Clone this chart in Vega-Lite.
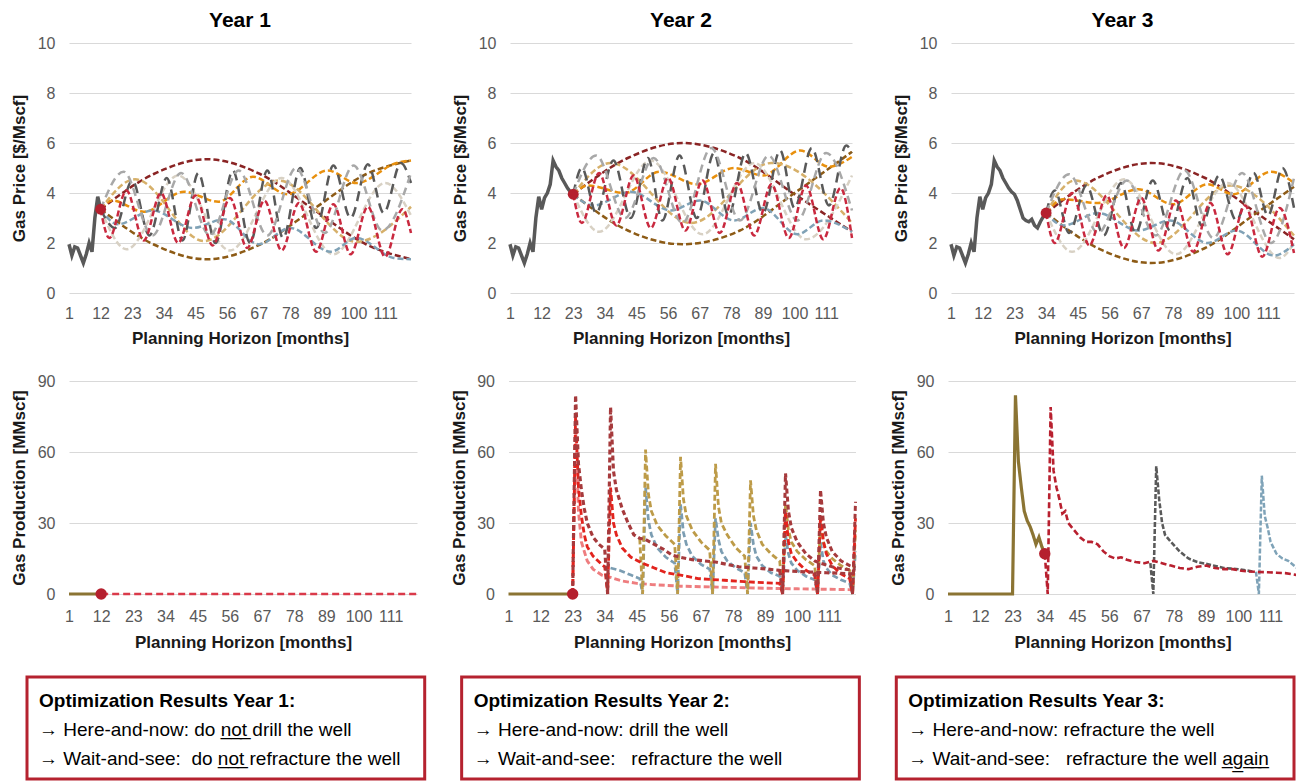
{
"$schema": "https://vega.github.io/schema/vega-lite/v6.json",
"padding": {"left": 10, "top": 10, "right": 0, "bottom": 0},
"background": "white",
"config": {
  "view": {"stroke": null},
  "font": "Liberation Sans",
  "axis": {"labelFont": "Liberation Sans", "titleFont": "Liberation Sans", "labelFontSize": 16, "labelColor": "#595959", "titleFontSize": 17, "titleFontWeight": "bold", "titleColor": "#1a1a1a", "domain": false, "ticks": false, "tickSize": 0, "gridColor": "#d9d9d9", "gridWidth": 1},
  "axisX": {"grid": false, "labelPadding": 12, "titlePadding": 9, "labelOverlap": false, "labelFlush": false, "tickCount": 20},
  "axisY": {"grid": true, "labelPadding": 14, "titlePadding": 8.5},
  "title": {"font": "Liberation Sans", "fontSize": 21, "fontWeight": "bold", "color": "#000000", "offset": 4, "anchor": "middle"},
  "line": {"strokeCap": "butt"}
},
"datasets": {
  "h": [
    {"m":1,"v":1.95},{"m":2,"v":1.5},{"m":3,"v":1.85},{"m":4,"v":1.8},{"m":5,"v":1.5},{"m":6,"v":1.2},{"m":7,"v":1.55},{"m":8,"v":2.0},{"m":9,"v":1.65},{"m":10,"v":3.0},{"m":11,"v":3.85},{"m":12,"v":3.35},{"m":13,"v":3.8},{"m":14,"v":4.0},{"m":15,"v":4.35},{"m":16,"v":5.3},{"m":17,"v":5.05},{"m":18,"v":4.9},{"m":19,"v":4.6},{"m":20,"v":4.4},{"m":21,"v":4.2},{"m":22,"v":4.05},{"m":23,"v":3.95},{"m":24,"v":3.7},{"m":25,"v":3.35},{"m":26,"v":3.0},{"m":27,"v":2.9},{"m":28,"v":2.85},{"m":29,"v":2.95},{"m":30,"v":2.7},{"m":31,"v":2.6},{"m":32,"v":2.85},{"m":33,"v":3.05},{"m":34,"v":3.2}
  ],
  "d": [
    {"yr":1,"m":12,"pv":3.35,"qv":0},{"yr":2,"m":23,"pv":3.95,"qv":0},{"yr":3,"m":34,"pv":3.2,"qv":17}
  ],
  "p1": [
    {"s":"dr","m":12,"v":3.35},{"s":"dr","m":30.5,"v":4.76},{"s":"dr","m":49,"v":5.35},{"s":"dr","m":67.5,"v":4.76},{"s":"dr","m":86,"v":3.35},{"s":"dr","m":104.5,"v":1.94},{"s":"dr","m":120,"v":1.35},
    {"s":"br","m":12,"v":3.35},{"s":"br","m":30.5,"v":1.94},{"s":"br","m":49,"v":1.35},{"s":"br","m":67.5,"v":1.94},{"s":"br","m":86,"v":3.35},{"s":"br","m":104.5,"v":4.76},{"s":"br","m":120,"v":5.3},
    {"s":"or","m":12,"v":3.35},{"s":"or","m":16,"v":3.7},{"s":"or","m":27,"v":3.25},{"s":"or","m":41,"v":4.05},{"s":"or","m":53,"v":3.65},{"s":"or","m":65,"v":4.65},{"s":"or","m":77,"v":3.95},{"s":"or","m":91,"v":4.9},{"s":"or","m":101,"v":4.4},{"s":"or","m":115,"v":5.2},{"s":"or","m":120,"v":5.3},
    {"s":"tn","m":12,"v":3.35},{"s":"tn","m":24,"v":4.55},{"s":"tn","m":48,"v":2.08},{"s":"tn","m":74,"v":4.5},{"s":"tn","m":101,"v":2.05},{"s":"tn","m":120,"v":3.45},
    {"s":"bg","m":12,"v":3.35},{"s":"bg","m":21,"v":1.75},{"s":"bg","m":39,"v":4.7},{"s":"bg","m":57,"v":1.7},{"s":"bg","m":75,"v":4.6},{"s":"bg","m":93,"v":1.55},{"s":"bg","m":111,"v":4.4},{"s":"bg","m":120,"v":3.1},
    {"s":"bl","m":12,"v":3.35},{"s":"bl","m":18,"v":2.75},{"s":"bl","m":30,"v":3.3},{"s":"bl","m":44,"v":2.6},{"s":"bl","m":55,"v":2.95},{"s":"bl","m":67,"v":1.95},{"s":"bl","m":78,"v":2.6},{"s":"bl","m":92,"v":1.65},{"s":"bl","m":101,"v":2.2},{"s":"bl","m":114,"v":1.4},{"s":"bl","m":120,"v":1.35},
    {"s":"dg","m":12,"v":3.35},{"s":"dg","m":17,"v":2.6},{"s":"dg","m":23,"v":4.5},{"s":"dg","m":29,"v":2.3},{"s":"dg","m":35,"v":4.6},{"s":"dg","m":40.5,"v":2.1},{"s":"dg","m":46,"v":4.8},{"s":"dg","m":52,"v":2.0},{"s":"dg","m":58,"v":4.9},{"s":"dg","m":64,"v":2.0},{"s":"dg","m":70,"v":4.9},{"s":"dg","m":75.5,"v":2.2},{"s":"dg","m":81.5,"v":5.0},{"s":"dg","m":87,"v":2.6},{"s":"dg","m":93,"v":5.1},{"s":"dg","m":99,"v":3.0},{"s":"dg","m":105,"v":5.15},{"s":"dg","m":110.5,"v":3.2},{"s":"dg","m":116.5,"v":5.2},{"s":"dg","m":120,"v":4.4},
    {"s":"mg","m":12,"v":3.35},{"s":"mg","m":20,"v":4.85},{"s":"mg","m":30,"v":2.3},{"s":"mg","m":40,"v":4.8},{"s":"mg","m":50,"v":2.3},{"s":"mg","m":60,"v":4.9},{"s":"mg","m":70,"v":2.3},{"s":"mg","m":80,"v":5.0},{"s":"mg","m":90,"v":2.4},{"s":"mg","m":100,"v":5.1},{"s":"mg","m":110,"v":2.5},{"s":"mg","m":120,"v":4.8},
    {"s":"r1","m":12,"v":3.35},{"s":"r1","m":15,"v":2.2},{"s":"r1","m":21,"v":4.1},{"s":"r1","m":27,"v":2.1},{"s":"r1","m":33,"v":4.0},{"s":"r1","m":39,"v":2.0},{"s":"r1","m":45,"v":3.9},{"s":"r1","m":51,"v":1.9},{"s":"r1","m":57,"v":3.8},{"s":"r1","m":63,"v":1.8},{"s":"r1","m":69,"v":3.7},{"s":"r1","m":75,"v":1.7},{"s":"r1","m":81,"v":3.6},{"s":"r1","m":87,"v":1.65},{"s":"r1","m":93,"v":3.55},{"s":"r1","m":99,"v":1.55},{"s":"r1","m":105,"v":3.45},{"s":"r1","m":111,"v":1.45},{"s":"r1","m":117,"v":3.35},{"s":"r1","m":120,"v":2.4}
  ],
  "p2": [
    {"s":"dr","m":23,"v":3.95},{"s":"dr","m":42,"v":5.4},{"s":"dr","m":61,"v":6.0},{"s":"dr","m":81,"v":5.4},{"s":"dr","m":100,"v":3.95},{"s":"dr","m":120,"v":2.45},
    {"s":"br","m":23,"v":3.95},{"s":"br","m":42,"v":2.5},{"s":"br","m":61,"v":1.95},{"s":"br","m":81,"v":2.5},{"s":"br","m":100,"v":4.0},{"s":"br","m":120,"v":5.65},
    {"s":"or","m":23,"v":3.95},{"s":"or","m":28,"v":4.3},{"s":"or","m":41,"v":4.0},{"s":"or","m":53,"v":4.85},{"s":"or","m":66,"v":4.35},{"s":"or","m":79,"v":5.0},{"s":"or","m":89,"v":4.7},{"s":"or","m":102,"v":5.7},{"s":"or","m":112,"v":5.05},{"s":"or","m":120,"v":5.45},
    {"s":"tn","m":23,"v":3.95},{"s":"tn","m":36,"v":5.2},{"s":"tn","m":64,"v":2.8},{"s":"tn","m":92,"v":5.2},{"s":"tn","m":120,"v":2.8},
    {"s":"bg","m":23,"v":3.95},{"s":"bg","m":32,"v":2.45},{"s":"bg","m":50,"v":5.3},{"s":"bg","m":68,"v":2.35},{"s":"bg","m":86,"v":5.2},{"s":"bg","m":104,"v":2.15},{"s":"bg","m":120,"v":4.7},
    {"s":"bl","m":23,"v":3.95},{"s":"bl","m":30,"v":3.5},{"s":"bl","m":43,"v":4.05},{"s":"bl","m":57,"v":3.3},{"s":"bl","m":67,"v":3.7},{"s":"bl","m":79,"v":2.9},{"s":"bl","m":89,"v":3.4},{"s":"bl","m":101,"v":2.35},{"s":"bl","m":110,"v":2.9},{"s":"bl","m":120,"v":2.45},
    {"s":"dg","m":23,"v":3.95},{"s":"dg","m":26,"v":5.0},{"s":"dg","m":31,"v":3.2},{"s":"dg","m":37,"v":5.3},{"s":"dg","m":43,"v":3.0},{"s":"dg","m":49,"v":5.4},{"s":"dg","m":54,"v":2.9},{"s":"dg","m":60,"v":5.5},{"s":"dg","m":66,"v":3.0},{"s":"dg","m":72,"v":5.6},{"s":"dg","m":77,"v":3.1},{"s":"dg","m":83,"v":5.6},{"s":"dg","m":89,"v":3.2},{"s":"dg","m":95,"v":5.7},{"s":"dg","m":100,"v":3.4},{"s":"dg","m":106,"v":5.8},{"s":"dg","m":112,"v":3.5},{"s":"dg","m":118,"v":5.9},{"s":"dg","m":120,"v":5.6},
    {"s":"mg","m":23,"v":3.95},{"s":"mg","m":31,"v":5.5},{"s":"mg","m":41,"v":3.0},{"s":"mg","m":51,"v":5.4},{"s":"mg","m":61,"v":2.8},{"s":"mg","m":71,"v":5.8},{"s":"mg","m":81,"v":2.9},{"s":"mg","m":91,"v":5.5},{"s":"mg","m":101,"v":2.9},{"s":"mg","m":111,"v":5.6},{"s":"mg","m":120,"v":3.3},
    {"s":"r1","m":23,"v":3.95},{"s":"r1","m":26,"v":2.8},{"s":"r1","m":32,"v":4.8},{"s":"r1","m":38,"v":2.7},{"s":"r1","m":44,"v":4.7},{"s":"r1","m":50,"v":2.6},{"s":"r1","m":56,"v":4.6},{"s":"r1","m":62,"v":2.5},{"s":"r1","m":68,"v":4.5},{"s":"r1","m":74,"v":2.4},{"s":"r1","m":80,"v":4.4},{"s":"r1","m":86,"v":2.3},{"s":"r1","m":92,"v":4.35},{"s":"r1","m":98,"v":2.2},{"s":"r1","m":104,"v":4.3},{"s":"r1","m":110,"v":2.15},{"s":"r1","m":116,"v":4.2},{"s":"r1","m":120,"v":2.2}
  ],
  "p3": [
    {"s":"dr","m":34,"v":3.2},{"s":"dr","m":52,"v":4.61},{"s":"dr","m":70.5,"v":5.2},{"s":"dr","m":89,"v":4.61},{"s":"dr","m":107,"v":3.2},{"s":"dr","m":120,"v":2.15},
    {"s":"br","m":34,"v":3.2},{"s":"br","m":52,"v":1.79},{"s":"br","m":70.5,"v":1.2},{"s":"br","m":89,"v":1.79},{"s":"br","m":107,"v":3.2},{"s":"br","m":120,"v":4.25},
    {"s":"or","m":34,"v":3.2},{"s":"or","m":40,"v":3.75},{"s":"or","m":52,"v":3.6},{"s":"or","m":66,"v":4.15},{"s":"or","m":78,"v":3.55},{"s":"or","m":90,"v":4.35},{"s":"or","m":99,"v":3.95},{"s":"or","m":112,"v":4.85},{"s":"or","m":120,"v":4.4},
    {"s":"tn","m":34,"v":3.2},{"s":"tn","m":44,"v":4.5},{"s":"tn","m":72,"v":2.0},{"s":"tn","m":98,"v":4.3},{"s":"tn","m":120,"v":2.3},
    {"s":"bg","m":34,"v":3.2},{"s":"bg","m":43,"v":1.65},{"s":"bg","m":61,"v":4.55},{"s":"bg","m":79,"v":1.55},{"s":"bg","m":97,"v":4.4},{"s":"bg","m":115,"v":1.4},{"s":"bg","m":120,"v":2.0},
    {"s":"bl","m":34,"v":3.2},{"s":"bl","m":40,"v":2.7},{"s":"bl","m":52,"v":3.2},{"s":"bl","m":66,"v":2.5},{"s":"bl","m":77,"v":2.9},{"s":"bl","m":90,"v":2.0},{"s":"bl","m":100,"v":2.5},{"s":"bl","m":113,"v":1.5},{"s":"bl","m":120,"v":1.95},
    {"s":"dg","m":34,"v":3.2},{"s":"dg","m":37,"v":4.1},{"s":"dg","m":42,"v":2.4},{"s":"dg","m":48,"v":4.3},{"s":"dg","m":54,"v":2.3},{"s":"dg","m":60,"v":4.4},{"s":"dg","m":65,"v":2.4},{"s":"dg","m":71,"v":4.5},{"s":"dg","m":77,"v":2.5},{"s":"dg","m":83,"v":4.6},{"s":"dg","m":88,"v":2.7},{"s":"dg","m":94,"v":4.7},{"s":"dg","m":100,"v":2.9},{"s":"dg","m":106,"v":4.8},{"s":"dg","m":111,"v":3.1},{"s":"dg","m":116,"v":5.0},{"s":"dg","m":120,"v":3.4},
    {"s":"mg","m":34,"v":3.2},{"s":"mg","m":42,"v":4.75},{"s":"mg","m":52,"v":2.4},{"s":"mg","m":62,"v":4.5},{"s":"mg","m":72,"v":2.3},{"s":"mg","m":82,"v":4.9},{"s":"mg","m":92,"v":2.2},{"s":"mg","m":102,"v":4.8},{"s":"mg","m":112,"v":2.0},{"s":"mg","m":120,"v":4.6},
    {"s":"r1","m":34,"v":3.2},{"s":"r1","m":37,"v":2.0},{"s":"r1","m":43,"v":4.0},{"s":"r1","m":49,"v":1.9},{"s":"r1","m":55,"v":3.9},{"s":"r1","m":61,"v":1.8},{"s":"r1","m":67,"v":3.8},{"s":"r1","m":73,"v":1.7},{"s":"r1","m":79,"v":3.7},{"s":"r1","m":85,"v":1.65},{"s":"r1","m":91,"v":3.6},{"s":"r1","m":97,"v":1.55},{"s":"r1","m":103,"v":3.5},{"s":"r1","m":109,"v":1.45},{"s":"r1","m":115,"v":3.4},{"s":"r1","m":120,"v":1.6}
  ],
  "q1": [
    {"s":"ol","m":1,"v":0},{"s":"ol","m":12,"v":0},{"s":"rb","m":12,"v":0},{"s":"rb","m":120,"v":0}
  ],
  "q2": [
    {"s":"ol","m":1,"v":0},{"s":"ol","m":23,"v":0},
    {"s":"pk","m":23,"v":0},{"s":"pk","m":24,"v":70},{"s":"pk","m":25,"v":35},{"s":"pk","m":26,"v":22},{"s":"pk","m":28,"v":14},{"s":"pk","m":30,"v":10.5},{"s":"pk","m":33,"v":8},{"s":"pk","m":36,"v":7},{"s":"pk","m":40,"v":5.5},{"s":"pk","m":45,"v":4.5},{"s":"pk","m":50,"v":4},{"s":"pk","m":60,"v":3.3},{"s":"pk","m":70,"v":3},{"s":"pk","m":80,"v":2.7},{"s":"pk","m":90,"v":2.4},{"s":"pk","m":100,"v":2.2},{"s":"pk","m":110,"v":2},{"s":"pk","m":120,"v":1.8},
    {"s":"bl","m":36,"v":11},{"s":"bl","m":39,"v":10},{"s":"bl","m":43,"v":8},{"s":"bl","m":46,"v":6.5},{"s":"bl","m":47,"v":0},{"s":"bl","m":48,"v":45},{"s":"bl","m":49,"v":31},{"s":"bl","m":50,"v":25},{"s":"bl","m":52,"v":19.5},{"s":"bl","m":55,"v":15.5},{"s":"bl","m":58,"v":13},{"s":"bl","m":59,"v":0},{"s":"bl","m":60,"v":38},{"s":"bl","m":61,"v":26},{"s":"bl","m":62,"v":21},{"s":"bl","m":64,"v":16},{"s":"bl","m":67,"v":12.5},{"s":"bl","m":70,"v":10.5},{"s":"bl","m":71,"v":0},{"s":"bl","m":72,"v":32},{"s":"bl","m":73,"v":23},{"s":"bl","m":74,"v":18},{"s":"bl","m":76,"v":14},{"s":"bl","m":79,"v":11},{"s":"bl","m":82,"v":9},{"s":"bl","m":83,"v":0},{"s":"bl","m":84,"v":30},{"s":"bl","m":85,"v":21},{"s":"bl","m":86,"v":16},{"s":"bl","m":88,"v":12},{"s":"bl","m":91,"v":9},{"s":"bl","m":94,"v":7.5},{"s":"bl","m":95,"v":0},{"s":"bl","m":96,"v":25},{"s":"bl","m":97,"v":17},{"s":"bl","m":98,"v":13},{"s":"bl","m":100,"v":10},{"s":"bl","m":103,"v":7.5},{"s":"bl","m":106,"v":6},{"s":"bl","m":107,"v":0},{"s":"bl","m":108,"v":22},{"s":"bl","m":109,"v":14},{"s":"bl","m":110,"v":11},{"s":"bl","m":112,"v":8},{"s":"bl","m":115,"v":6},{"s":"bl","m":118,"v":4.5},{"s":"bl","m":119,"v":0},{"s":"bl","m":120,"v":18},
    {"s":"gd","m":46,"v":23.5},{"s":"gd","m":47,"v":0},{"s":"gd","m":48,"v":61},{"s":"gd","m":49,"v":42},{"s":"gd","m":50,"v":35},{"s":"gd","m":52,"v":29},{"s":"gd","m":55,"v":24.5},{"s":"gd","m":58,"v":21},{"s":"gd","m":59,"v":0},{"s":"gd","m":60,"v":58},{"s":"gd","m":61,"v":40},{"s":"gd","m":62,"v":33},{"s":"gd","m":64,"v":27},{"s":"gd","m":67,"v":22},{"s":"gd","m":70,"v":18.5},{"s":"gd","m":71,"v":0},{"s":"gd","m":72,"v":55},{"s":"gd","m":73,"v":37},{"s":"gd","m":74,"v":30},{"s":"gd","m":76,"v":25},{"s":"gd","m":79,"v":19.5},{"s":"gd","m":82,"v":16},{"s":"gd","m":83,"v":0},{"s":"gd","m":84,"v":48},{"s":"gd","m":85,"v":33},{"s":"gd","m":86,"v":27},{"s":"gd","m":88,"v":21},{"s":"gd","m":91,"v":17},{"s":"gd","m":94,"v":14},{"s":"gd","m":95,"v":0},{"s":"gd","m":96,"v":38},{"s":"gd","m":97,"v":27},{"s":"gd","m":98,"v":22},{"s":"gd","m":100,"v":18},{"s":"gd","m":103,"v":14.5},{"s":"gd","m":106,"v":12},{"s":"gd","m":107,"v":0},{"s":"gd","m":108,"v":32},{"s":"gd","m":109,"v":22},{"s":"gd","m":110,"v":18},{"s":"gd","m":112,"v":15},{"s":"gd","m":115,"v":12},{"s":"gd","m":118,"v":10},{"s":"gd","m":119,"v":0},{"s":"gd","m":120,"v":27},
    {"s":"rd","m":23,"v":0},{"s":"rd","m":24,"v":75},{"s":"rd","m":25,"v":45},{"s":"rd","m":26,"v":33},{"s":"rd","m":27,"v":25},{"s":"rd","m":28,"v":20},{"s":"rd","m":30,"v":16},{"s":"rd","m":33,"v":12.5},{"s":"rd","m":34,"v":11.5},{"s":"rd","m":35,"v":0},{"s":"rd","m":36,"v":45},{"s":"rd","m":37,"v":30},{"s":"rd","m":38,"v":25},{"s":"rd","m":40,"v":19.5},{"s":"rd","m":43,"v":15.5},{"s":"rd","m":47,"v":13},{"s":"rd","m":51,"v":11},{"s":"rd","m":55,"v":9},{"s":"rd","m":60,"v":8},{"s":"rd","m":66,"v":6.5},{"s":"rd","m":75,"v":5.8},{"s":"rd","m":82,"v":5.2},{"s":"rd","m":90,"v":4.7},{"s":"rd","m":94,"v":4.5},{"s":"rd","m":95,"v":0},{"s":"rd","m":96,"v":35},{"s":"rd","m":97,"v":22},{"s":"rd","m":98,"v":17},{"s":"rd","m":100,"v":13.5},{"s":"rd","m":103,"v":10},{"s":"rd","m":106,"v":8},{"s":"rd","m":107,"v":0},{"s":"rd","m":108,"v":33},{"s":"rd","m":109,"v":22},{"s":"rd","m":110,"v":17},{"s":"rd","m":112,"v":12},{"s":"rd","m":115,"v":8.5},{"s":"rd","m":118,"v":6.5},{"s":"rd","m":119,"v":0},{"s":"rd","m":120,"v":32},
    {"s":"dr","m":23,"v":0},{"s":"dr","m":24,"v":84},{"s":"dr","m":25,"v":55},{"s":"dr","m":26,"v":44},{"s":"dr","m":27,"v":36},{"s":"dr","m":28,"v":30},{"s":"dr","m":30,"v":24},{"s":"dr","m":32,"v":21},{"s":"dr","m":34,"v":19},{"s":"dr","m":35,"v":0},{"s":"dr","m":36,"v":79},{"s":"dr","m":37,"v":52},{"s":"dr","m":38,"v":44},{"s":"dr","m":40,"v":36},{"s":"dr","m":42,"v":30},{"s":"dr","m":44,"v":25},{"s":"dr","m":46,"v":23.5},{"s":"dr","m":48,"v":23},{"s":"dr","m":51,"v":21},{"s":"dr","m":54,"v":19},{"s":"dr","m":57,"v":16.5},{"s":"dr","m":60,"v":15.5},{"s":"dr","m":64,"v":14.5},{"s":"dr","m":68,"v":14},{"s":"dr","m":72,"v":13.5},{"s":"dr","m":76,"v":12.5},{"s":"dr","m":80,"v":11.5},{"s":"dr","m":85,"v":11},{"s":"dr","m":90,"v":10.5},{"s":"dr","m":94,"v":10},{"s":"dr","m":100,"v":9.5},{"s":"dr","m":110,"v":9},{"s":"dr","m":120,"v":8.5},
    {"s":"dr96","m":94,"v":10},{"s":"dr96","m":95,"v":0},{"s":"dr96","m":96,"v":51},{"s":"dr96","m":97,"v":35},{"s":"dr96","m":98,"v":28},{"s":"dr96","m":100,"v":22},{"s":"dr96","m":103,"v":17},{"s":"dr96","m":106,"v":14},{"s":"dr96","m":108,"v":13},{"s":"dr96","m":112,"v":11.5},{"s":"dr96","m":116,"v":10.5},{"s":"dr96","m":120,"v":10},
    {"s":"dr108","m":106,"v":9.2},{"s":"dr108","m":107,"v":0},{"s":"dr108","m":108,"v":44},{"s":"dr108","m":109,"v":30},{"s":"dr108","m":110,"v":24},{"s":"dr108","m":112,"v":18},{"s":"dr108","m":115,"v":14},{"s":"dr108","m":118,"v":12},{"s":"dr108","m":120,"v":11},
    {"s":"dr120","m":118,"v":8.7},{"s":"dr120","m":119,"v":0},{"s":"dr120","m":120,"v":39}
  ],
  "q3": [
    {"s":"ol","m":1,"v":0},{"s":"ol","m":23,"v":0},{"s":"ol","m":24,"v":84},{"s":"ol","m":25,"v":56},{"s":"ol","m":26,"v":45},{"s":"ol","m":27,"v":35},{"s":"ol","m":28,"v":31},{"s":"ol","m":29,"v":28.5},{"s":"ol","m":30,"v":25},{"s":"ol","m":31,"v":21},{"s":"ol","m":32,"v":24},{"s":"ol","m":33,"v":20},{"s":"ol","m":34,"v":17},
    {"s":"gy","m":70,"v":13},{"s":"gy","m":71,"v":0},{"s":"gy","m":72,"v":54},{"s":"gy","m":73,"v":40},{"s":"gy","m":74,"v":30},{"s":"gy","m":75,"v":25},{"s":"gy","m":77,"v":22},{"s":"gy","m":80,"v":18},{"s":"gy","m":83,"v":15},{"s":"gy","m":86,"v":13.5},{"s":"gy","m":90,"v":12.5},{"s":"gy","m":95,"v":11},{"s":"gy","m":100,"v":10.5},{"s":"gy","m":105,"v":9.5},
    {"s":"b3","m":106,"v":9.4},{"s":"b3","m":107,"v":0},{"s":"b3","m":108,"v":50},{"s":"b3","m":109,"v":33},{"s":"b3","m":110,"v":28},{"s":"b3","m":111,"v":22},{"s":"b3","m":113,"v":17},{"s":"b3","m":115,"v":15},{"s":"b3","m":117,"v":14},{"s":"b3","m":120,"v":11},
    {"s":"r3","m":34,"v":17},{"s":"r3","m":35,"v":0},{"s":"r3","m":36,"v":79},{"s":"r3","m":37,"v":52},{"s":"r3","m":38,"v":45},{"s":"r3","m":39,"v":40},{"s":"r3","m":40,"v":34},{"s":"r3","m":41,"v":35},{"s":"r3","m":42,"v":30},{"s":"r3","m":44,"v":27},{"s":"r3","m":46,"v":24},{"s":"r3","m":48,"v":22},{"s":"r3","m":50,"v":22},{"s":"r3","m":52,"v":21},{"s":"r3","m":54,"v":18},{"s":"r3","m":56,"v":16},{"s":"r3","m":58,"v":15},{"s":"r3","m":60,"v":15.5},{"s":"r3","m":62,"v":14.5},{"s":"r3","m":65,"v":13.5},{"s":"r3","m":68,"v":13},{"s":"r3","m":71,"v":14},{"s":"r3","m":74,"v":13},{"s":"r3","m":77,"v":12},{"s":"r3","m":80,"v":11},{"s":"r3","m":83,"v":10.5},{"s":"r3","m":86,"v":11.5},{"s":"r3","m":89,"v":12},{"s":"r3","m":92,"v":11},{"s":"r3","m":95,"v":10.5},{"s":"r3","m":98,"v":10.5},{"s":"r3","m":101,"v":9.8},{"s":"r3","m":104,"v":9.5},{"s":"r3","m":107,"v":9.3},{"s":"r3","m":110,"v":9.2},{"s":"r3","m":113,"v":9},{"s":"r3","m":116,"v":8.8},{"s":"r3","m":120,"v":8}
  ],
  "t": [
    {"yr":1,"ln":1,"tx":"Optimization Results Year 1:"},
    {"yr":1,"ln":2,"tx":"\u2192 Here-and-now: do n\u0332o\u0332t\u0332 drill the well"},
    {"yr":1,"ln":3,"tx":"\u2192 Wait-and-see:\u00a0 do n\u0332o\u0332t\u0332 refracture the well"},
    {"yr":2,"ln":1,"tx":"Optimization Results Year 2:"},
    {"yr":2,"ln":2,"tx":"\u2192 Here-and-now: drill the well"},
    {"yr":2,"ln":3,"tx":"\u2192 Wait-and-see:\u00a0\u00a0 refracture the well"},
    {"yr":3,"ln":1,"tx":"Optimization Results Year 3:"},
    {"yr":3,"ln":2,"tx":"\u2192 Here-and-now: refracture the well"},
    {"yr":3,"ln":3,"tx":"\u2192 Wait-and-see:\u00a0\u00a0 refracture the well a\u0332g\u0332a\u0332i\u0332n\u0332"}
  ]
},
"vconcat": [
  {
    "vconcat": [
      {
        "spacing": 35,
        "hconcat": [
          {
            "width": 342, "height": 250, "title": "Year 1",
            "layer": [
              {"data": {"name": "p1"}, "mark": {"type": "line", "interpolate": "monotone"},
               "encoding": {
                 "x": {"field": "m", "type": "quantitative", "scale": {"domain": [1, 120], "nice": false, "zero": false}, "axis": {"values": [1,12,23,34,45,56,67,78,89,100,111], "tickCount": 20, "labelOverlap": false, "labelFlush": false, "title": "Planning Horizon [months]"}},
                 "y": {"field": "v", "type": "quantitative", "scale": {"domain": [0, 10], "nice": false}, "axis": {"values": [0,2,4,6,8,10], "title": "Gas Price [$/Mscf]"}},
                 "color": {"field": "s", "type": "nominal", "legend": null, "scale": {"domain": ["dr","br","or","tn","bg","bl","dg","mg","r1"], "range": ["#8A2424","#8D5B16","#E8900E","#D6B06A","#D8D1C4","#80A2B6","#595959","#A8A8A8","#C9293F"]}},
                 "strokeWidth": {"field": "s", "type": "nominal", "legend": null, "scale": {"domain": ["dr","br","or","tn","bg","bl","dg","mg","r1"], "range": [2.5,2.5,2.5,2.5,2.5,2.5,4.5,3,2.5]}},
                 "strokeDash": {"field": "s", "type": "nominal", "legend": null, "scale": {"domain": ["dr","br","or","tn","bg","bl","dg","mg","r1"], "range": [[6,3],[6,3],[6,3],[6,3],[6,3],[6,3],[10,6],[8,5],[6,3]]}}
               }},
              {"data": {"name": "h"}, "transform": [{"filter": "datum.m <= 12"}], "mark": {"type": "line", "color": "#595959", "strokeWidth": 3.5},
               "encoding": {"x": {"field": "m", "type": "quantitative"}, "y": {"field": "v", "type": "quantitative"}}},
              {"data": {"name": "d"}, "transform": [{"filter": "datum.yr == 1"}], "mark": {"type": "point", "filled": true, "color": "#B5202E", "size": 120, "opacity": 1},
               "encoding": {"x": {"field": "m", "type": "quantitative"}, "y": {"field": "pv", "type": "quantitative"}}}
            ]
          },
          {
            "width": 342, "height": 250, "title": "Year 2",
            "layer": [
              {"data": {"name": "p2"}, "mark": {"type": "line", "interpolate": "monotone"},
               "encoding": {
                 "x": {"field": "m", "type": "quantitative", "scale": {"domain": [1, 120], "nice": false, "zero": false}, "axis": {"values": [1,12,23,34,45,56,67,78,89,100,111], "tickCount": 20, "labelOverlap": false, "labelFlush": false, "title": "Planning Horizon [months]"}},
                 "y": {"field": "v", "type": "quantitative", "scale": {"domain": [0, 10], "nice": false}, "axis": {"values": [0,2,4,6,8,10], "title": "Gas Price [$/Mscf]"}},
                 "color": {"field": "s", "type": "nominal", "legend": null, "scale": {"domain": ["dr","br","or","tn","bg","bl","dg","mg","r1"], "range": ["#8A2424","#8D5B16","#E8900E","#D6B06A","#D8D1C4","#80A2B6","#595959","#A8A8A8","#C9293F"]}},
                 "strokeWidth": {"field": "s", "type": "nominal", "legend": null, "scale": {"domain": ["dr","br","or","tn","bg","bl","dg","mg","r1"], "range": [2.5,2.5,2.5,2.5,2.5,2.5,4.5,3,2.5]}},
                 "strokeDash": {"field": "s", "type": "nominal", "legend": null, "scale": {"domain": ["dr","br","or","tn","bg","bl","dg","mg","r1"], "range": [[6,3],[6,3],[6,3],[6,3],[6,3],[6,3],[10,6],[8,5],[6,3]]}}
               }},
              {"data": {"name": "h"}, "transform": [{"filter": "datum.m <= 23"}], "mark": {"type": "line", "color": "#595959", "strokeWidth": 3.5},
               "encoding": {"x": {"field": "m", "type": "quantitative"}, "y": {"field": "v", "type": "quantitative"}}},
              {"data": {"name": "d"}, "transform": [{"filter": "datum.yr == 2"}], "mark": {"type": "point", "filled": true, "color": "#B5202E", "size": 120, "opacity": 1},
               "encoding": {"x": {"field": "m", "type": "quantitative"}, "y": {"field": "pv", "type": "quantitative"}}}
            ]
          },
          {
            "width": 343, "height": 250, "title": "Year 3",
            "layer": [
              {"data": {"name": "p3"}, "mark": {"type": "line", "interpolate": "monotone"},
               "encoding": {
                 "x": {"field": "m", "type": "quantitative", "scale": {"domain": [1, 120], "nice": false, "zero": false}, "axis": {"values": [1,12,23,34,45,56,67,78,89,100,111], "tickCount": 20, "labelOverlap": false, "labelFlush": false, "title": "Planning Horizon [months]"}},
                 "y": {"field": "v", "type": "quantitative", "scale": {"domain": [0, 10], "nice": false}, "axis": {"values": [0,2,4,6,8,10], "title": "Gas Price [$/Mscf]"}},
                 "color": {"field": "s", "type": "nominal", "legend": null, "scale": {"domain": ["dr","br","or","tn","bg","bl","dg","mg","r1"], "range": ["#8A2424","#8D5B16","#E8900E","#D6B06A","#D8D1C4","#80A2B6","#595959","#A8A8A8","#C9293F"]}},
                 "strokeWidth": {"field": "s", "type": "nominal", "legend": null, "scale": {"domain": ["dr","br","or","tn","bg","bl","dg","mg","r1"], "range": [2.5,2.5,2.5,2.5,2.5,2.5,4.5,3,2.5]}},
                 "strokeDash": {"field": "s", "type": "nominal", "legend": null, "scale": {"domain": ["dr","br","or","tn","bg","bl","dg","mg","r1"], "range": [[6,3],[6,3],[6,3],[6,3],[6,3],[6,3],[10,6],[8,5],[6,3]]}}
               }},
              {"data": {"name": "h"}, "transform": [{"filter": "datum.m <= 34"}], "mark": {"type": "line", "color": "#595959", "strokeWidth": 3.5},
               "encoding": {"x": {"field": "m", "type": "quantitative"}, "y": {"field": "v", "type": "quantitative"}}},
              {"data": {"name": "d"}, "transform": [{"filter": "datum.yr == 3"}], "mark": {"type": "point", "filled": true, "color": "#B5202E", "size": 120, "opacity": 1},
               "encoding": {"x": {"field": "m", "type": "quantitative"}, "y": {"field": "pv", "type": "quantitative"}}}
            ]
          }
        ]
      },
      {
        "spacing": 26.5,
        "hconcat": [
          {
            "width": 348, "height": 213,
            "layer": [
              {"data": {"name": "q1"}, "mark": {"type": "line"},
               "encoding": {
                 "x": {"field": "m", "type": "quantitative", "scale": {"domain": [1, 120], "nice": false, "zero": false}, "axis": {"values": [1,12,23,34,45,56,67,78,89,100,111], "tickCount": 20, "labelOverlap": false, "labelFlush": false, "title": "Planning Horizon [months]", "labelPadding": 14, "titlePadding": 10}},
                 "y": {"field": "v", "type": "quantitative", "scale": {"domain": [0, 90], "nice": false}, "axis": {"values": [0,15,30,45,60,75,90], "title": "Gas Production [MMscf]"}},
                 "color": {"field": "s", "type": "nominal", "legend": null, "scale": {"domain": ["ol","dr","dr96","dr108","dr120","pk","rd","gd","bl","rb","r3","gy","b3"], "range": ["#8B7433","#A63A3C","#A63A3C","#A63A3C","#A63A3C","#EE7D7F","#E2231D","#BD9B48","#7B9DB2","#DA3A4A","#B8202F","#5A5A5A","#7FA3B8"]}},
                 "strokeWidth": {"field": "s", "type": "nominal", "legend": null, "scale": {"domain": ["ol","dr","dr96","dr108","dr120","pk","rd","gd","bl","rb","r3","gy","b3"], "range": [3.2,2.5,2.5,2.5,2.5,2.2,2.8,3,2.8,1.5,3,2,2]}},
                 "strokeDash": {"field": "s", "type": "nominal", "legend": null, "scale": {"domain": ["ol","dr","dr96","dr108","dr120","pk","rd","gd","bl","rb","r3","gy","b3"], "range": [[1,0],[5,3],[5,3],[5,3],[5,3],[6,3],[6,3],[6,3],[6,3],[7,4],[6,3],[5,2],[5,2]]}}
               }},
              {"data": {"name": "d"}, "transform": [{"filter": "datum.yr == 1"}], "mark": {"type": "point", "filled": true, "color": "#B5202E", "size": 130, "opacity": 1},
               "encoding": {"x": {"field": "m", "type": "quantitative"}, "y": {"field": "qv", "type": "quantitative"}}}
            ]
          },
          {
            "width": 347, "height": 213,
            "layer": [
              {"data": {"name": "q2"}, "mark": {"type": "line"},
               "encoding": {
                 "x": {"field": "m", "type": "quantitative", "scale": {"domain": [1, 120], "nice": false, "zero": false}, "axis": {"values": [1,12,23,34,45,56,67,78,89,100,111], "tickCount": 20, "labelOverlap": false, "labelFlush": false, "title": "Planning Horizon [months]", "labelPadding": 14, "titlePadding": 10}},
                 "y": {"field": "v", "type": "quantitative", "scale": {"domain": [0, 90], "nice": false}, "axis": {"values": [0,15,30,45,60,75,90], "title": "Gas Production [MMscf]"}},
                 "color": {"field": "s", "type": "nominal", "legend": null, "scale": {"domain": ["ol","dr","dr96","dr108","dr120","pk","rd","gd","bl","rb","r3","gy","b3"], "range": ["#8B7433","#A63A3C","#A63A3C","#A63A3C","#A63A3C","#EE7D7F","#E2231D","#BD9B48","#7B9DB2","#DA3A4A","#B8202F","#5A5A5A","#7FA3B8"]}},
                 "strokeWidth": {"field": "s", "type": "nominal", "legend": null, "scale": {"domain": ["ol","dr","dr96","dr108","dr120","pk","rd","gd","bl","rb","r3","gy","b3"], "range": [3.2,2.5,2.5,2.5,2.5,2.2,2.8,3,2.8,1.5,3,2,2]}},
                 "strokeDash": {"field": "s", "type": "nominal", "legend": null, "scale": {"domain": ["ol","dr","dr96","dr108","dr120","pk","rd","gd","bl","rb","r3","gy","b3"], "range": [[1,0],[5,3],[5,3],[5,3],[5,3],[6,3],[6,3],[6,3],[6,3],[7,4],[6,3],[5,2],[5,2]]}}
               }},
              {"data": {"name": "d"}, "transform": [{"filter": "datum.yr == 2"}], "mark": {"type": "point", "filled": true, "color": "#B5202E", "size": 130, "opacity": 1},
               "encoding": {"x": {"field": "m", "type": "quantitative"}, "y": {"field": "qv", "type": "quantitative"}}}
            ]
          },
          {
            "width": 349, "height": 213,
            "layer": [
              {"data": {"name": "q3"}, "mark": {"type": "line"},
               "encoding": {
                 "x": {"field": "m", "type": "quantitative", "scale": {"domain": [1, 120], "nice": false, "zero": false}, "axis": {"values": [1,12,23,34,45,56,67,78,89,100,111], "tickCount": 20, "labelOverlap": false, "labelFlush": false, "title": "Planning Horizon [months]", "labelPadding": 14, "titlePadding": 10}},
                 "y": {"field": "v", "type": "quantitative", "scale": {"domain": [0, 90], "nice": false}, "axis": {"values": [0,15,30,45,60,75,90], "title": "Gas Production [MMscf]"}},
                 "color": {"field": "s", "type": "nominal", "legend": null, "scale": {"domain": ["ol","dr","dr96","dr108","dr120","pk","rd","gd","bl","rb","r3","gy","b3"], "range": ["#8B7433","#A63A3C","#A63A3C","#A63A3C","#A63A3C","#EE7D7F","#E2231D","#BD9B48","#7B9DB2","#DA3A4A","#B8202F","#5A5A5A","#7FA3B8"]}},
                 "strokeWidth": {"field": "s", "type": "nominal", "legend": null, "scale": {"domain": ["ol","dr","dr96","dr108","dr120","pk","rd","gd","bl","rb","r3","gy","b3"], "range": [3.2,2.5,2.5,2.5,2.5,2.2,2.8,3,2.8,1.5,3,2,2]}},
                 "strokeDash": {"field": "s", "type": "nominal", "legend": null, "scale": {"domain": ["ol","dr","dr96","dr108","dr120","pk","rd","gd","bl","rb","r3","gy","b3"], "range": [[1,0],[5,3],[5,3],[5,3],[5,3],[6,3],[6,3],[6,3],[6,3],[7,4],[6,3],[5,2],[5,2]]}}
               }},
              {"data": {"name": "d"}, "transform": [{"filter": "datum.yr == 3"}], "mark": {"type": "point", "filled": true, "color": "#B5202E", "size": 130, "opacity": 1},
               "encoding": {"x": {"field": "m", "type": "quantitative"}, "y": {"field": "qv", "type": "quantitative"}}}
            ]
          }
        ]
      }
    ],
    "spacing": 27,
    "resolve": {"scale": {"color": "independent", "strokeWidth": "independent", "strokeDash": "independent"}}
  },
  {
    "width": 1225, "height": 102,
    "data": {"name": "t"},
    "layer": [
      {"transform": [{"filter": "datum.ln == 1"}], "mark": {"type": "rect", "filled": false, "color": "#B5222F", "strokeWidth": 3},
       "encoding": {"x": {"field": "yr", "type": "ordinal", "scale": {"type": "band", "range": [-42, 1225], "paddingInner": 0.085, "paddingOuter": 0}, "axis": null}}},
      {"transform": [{"filter": "datum.ln == 1"}], "mark": {"type": "text", "align": "left", "baseline": "middle", "dx": 12, "dy": 2, "fontSize": 19, "fontWeight": "bold", "font": "Liberation Sans", "color": "#000000"},
       "encoding": {"x": {"field": "yr", "type": "ordinal", "bandPosition": 0, "axis": null}, "y": {"field": "ln", "type": "ordinal", "scale": {"type": "point", "domain": [1,2,3], "padding": 0.733}, "axis": null}, "text": {"field": "tx"}}},
      {"transform": [{"filter": "datum.ln > 1"}], "mark": {"type": "text", "align": "left", "baseline": "middle", "dx": 12, "dy": 2, "fontSize": 19, "font": "Liberation Sans", "color": "#000000"},
       "encoding": {"x": {"field": "yr", "type": "ordinal", "bandPosition": 0, "axis": null}, "y": {"field": "ln", "type": "ordinal", "scale": {"type": "point", "domain": [1,2,3], "padding": 0.733}, "axis": null}, "text": {"field": "tx"}}}
    ]
  }
],
"spacing": 25,
"resolve": {"scale": {"color": "independent", "strokeWidth": "independent", "strokeDash": "independent"}}
}
